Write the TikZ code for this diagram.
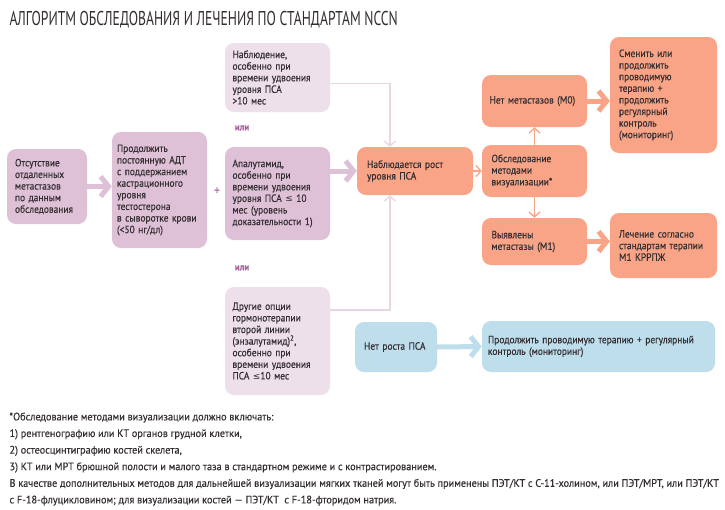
\documentclass[tikz,border=0pt]{standalone}
\usepackage{fontspec}
\setmainfont{PT Sans}[FakeStretch=0.9, FakeBold=0.4]
\newfontfamily\titlefont{PT Sans}[FakeStretch=0.68]
\newfontfamily\notefont{PT Sans}[FakeStretch=0.95, FakeBold=0.3]
\newfontfamily\symfont{DejaVu Sans}[Scale=0.85]
\usetikzlibrary{arrows.meta,positioning}
\definecolor{txtgray}{RGB}{52,46,50}
\definecolor{nccnmauve}{RGB}{222,193,215}
\definecolor{nccnlight}{RGB}{237,224,234}
\definecolor{nccnline}{RGB}{232,214,226}
\definecolor{nccnsalmon}{RGB}{249,164,134}
\definecolor{nccnblue}{RGB}{190,222,236}
\definecolor{nccnpurple}{RGB}{168,98,156}

\tikzset{
  box/.style={rounded corners=9pt, align=left, inner sep=0pt},
  mauvebox/.style={box, fill=nccnmauve},
  lightbox/.style={box, fill=nccnlight},
  salmonbox/.style={box, fill=nccnsalmon},
  bluebox/.style={box, fill=nccnblue},
  chev/.style={line width=5pt, -{Straight Barb[length=8pt,width=20pt]}},
  thinarr/.style={line width=1.3pt, -{Straight Barb[length=5pt,width=11pt]}},
  orlabel/.style={text=nccnpurple, font=\fontsize{10}{12}\selectfont\bfseries}
}

\begin{document}
\begin{tikzpicture}[x=1pt, y=-1pt, every node/.style={font=\fontsize{10.5}{11.6}\selectfont, text=txtgray}]
  \useasboundingbox[fill=white] (0,0) rectangle (725,509);

  \node[anchor=west, font=\titlefont\fontsize{20}{22}\selectfont] (title) at (6,20) {АЛГОРИТМ ОБСЛЕДОВАНИЯ И ЛЕЧЕНИЯ ПО СТАНДАРТАМ NCCN};

  % left column
  \node[mauvebox, minimum width=80pt, minimum height=75pt, text width=64pt] (absent) at (47,186.5) {Отсутствие\\отдаленных\\метастазов\\по данным\\обследования};
  \node[mauvebox, minimum width=95pt, minimum height=116pt, text width=85pt] (adt) at (159.5,190) {Продолжить\\постоянную АДТ\\с поддержанием\\кастрационного\\уровня\\тестостерона\\в сыворотке крови\\(<50 нг/дл)};
  \node[text=nccnpurple, font=\fontsize{13}{13}\selectfont] (plus) at (217,191) {+};

  % options
  \node[lightbox, minimum width=105pt, minimum height=69pt, text width=90pt] (watch) at (277.5,77.5) {Наблюдение,\\особенно при\\времени удвоения\\уровня ПСА\\>10 мес};
  \node[orlabel] (or1) at (242,128) {или};
  \node[mauvebox, minimum width=105pt, minimum height=93pt, text width=90pt] (apal) at (277.5,193.5) {Апалутамид,\\особенно при\\времени удвоения\\уровня ПСА {\symfont ≤} 10\\мес (уровень\\доказательности 1)};
  \node[orlabel] (or2) at (242,268) {или};
  \node[lightbox, minimum width=105pt, minimum height=108pt, text width=90pt] (other) at (277.5,341) {Другие опции\\гормонотерапии\\второй линии\\(энзалутамид)\textsuperscript{2},\\особенно при\\времени удвоения\\ПСА {\symfont ≤}10 мес};

  % PSA
  \node[salmonbox, minimum width=116pt, minimum height=48pt, text width=96pt] (rise) at (415,171) {Наблюдается рост\\уровня ПСА};
  \node[salmonbox, minimum width=105pt, minimum height=52pt, text width=86pt] (imaging) at (534.5,171) {Обследование\\методами\\визуализации*};
  \node[salmonbox, minimum width=105pt, minimum height=52pt, text width=90pt] (m0) at (534.5,101) {Нет метастазов (М0)};
  \node[salmonbox, minimum width=107pt, minimum height=116pt, text width=89pt] (switch) at (663.5,95) {Сменить или\\продолжить\\проводимую\\терапию +\\продолжить\\регулярный\\контроль\\(мониторинг)};
  \node[salmonbox, minimum width=105pt, minimum height=47pt, text width=86pt] (m1) at (534.5,241.5) {Выявлены\\метастазы (М1)};
  \node[salmonbox, minimum width=107pt, minimum height=65pt, text width=89pt] (crpc) at (663.5,245.5) {Лечение согласно\\стандартам терапии\\М1 КРРПЖ};

  \node[bluebox, minimum width=82pt, minimum height=50pt, text width=64pt] (norise) at (396,347) {Нет роста ПСА};
  \node[bluebox, minimum width=233pt, minimum height=51pt, text width=221pt] (keep) at (598.5,346.5) {Продолжить проводимую терапию + регулярный\\контроль (мониторинг)};

  % connectors
  \draw[chev, nccnmauve] (absent.east) -- (adt.west |- absent.east);
  \draw[chev, nccnmauve] (apal.east |- rise.west) -- (rise.west);
  \draw[thinarr, nccnline] ([yshift=-6pt]watch.east) -| ([xshift=-25pt]rise.north);
  \draw[thinarr, nccnline] ([yshift=31pt]other.east) -| ([xshift=-25pt]rise.south);
  \draw[thinarr, nccnsalmon] (rise.east) -- (imaging.west);
  \draw[thinarr, nccnsalmon] (imaging.north) -- (m0.south);
  \draw[thinarr, nccnsalmon] (imaging.south) -- (m1.north);
  \draw[chev, nccnsalmon] (m0.east) -- (switch.west |- m0.east);
  \draw[chev, nccnsalmon] (m1.east) -- (crpc.west |- m1.east);
  \draw[chev, nccnblue] (norise.east) -- (keep.west);

  % footnote
  \node[anchor=north west, align=left, font=\notefont\fontsize{10.8}{16.6}\selectfont] (note) at (6,409) {*Обследование методами визуализации должно включать:\\
1) рентгенографию или КТ органов грудной клетки,\\
2) остеосцинтиграфию костей скелета,\\
3) КТ или МРТ брюшной полости и малого таза в стандартном режиме и с контрастированием.\\
В качестве дополнительных методов для дальнейшей визуализации мягких тканей могут быть применены ПЭТ/КТ с С-11-холином, или ПЭТ/МРТ, или ПЭТ/КТ\\
с F-18-флуцикловином; для визуализации костей — ПЭТ/КТ\ \ с F-18-фторидом натрия.};
\end{tikzpicture}
\end{document}
